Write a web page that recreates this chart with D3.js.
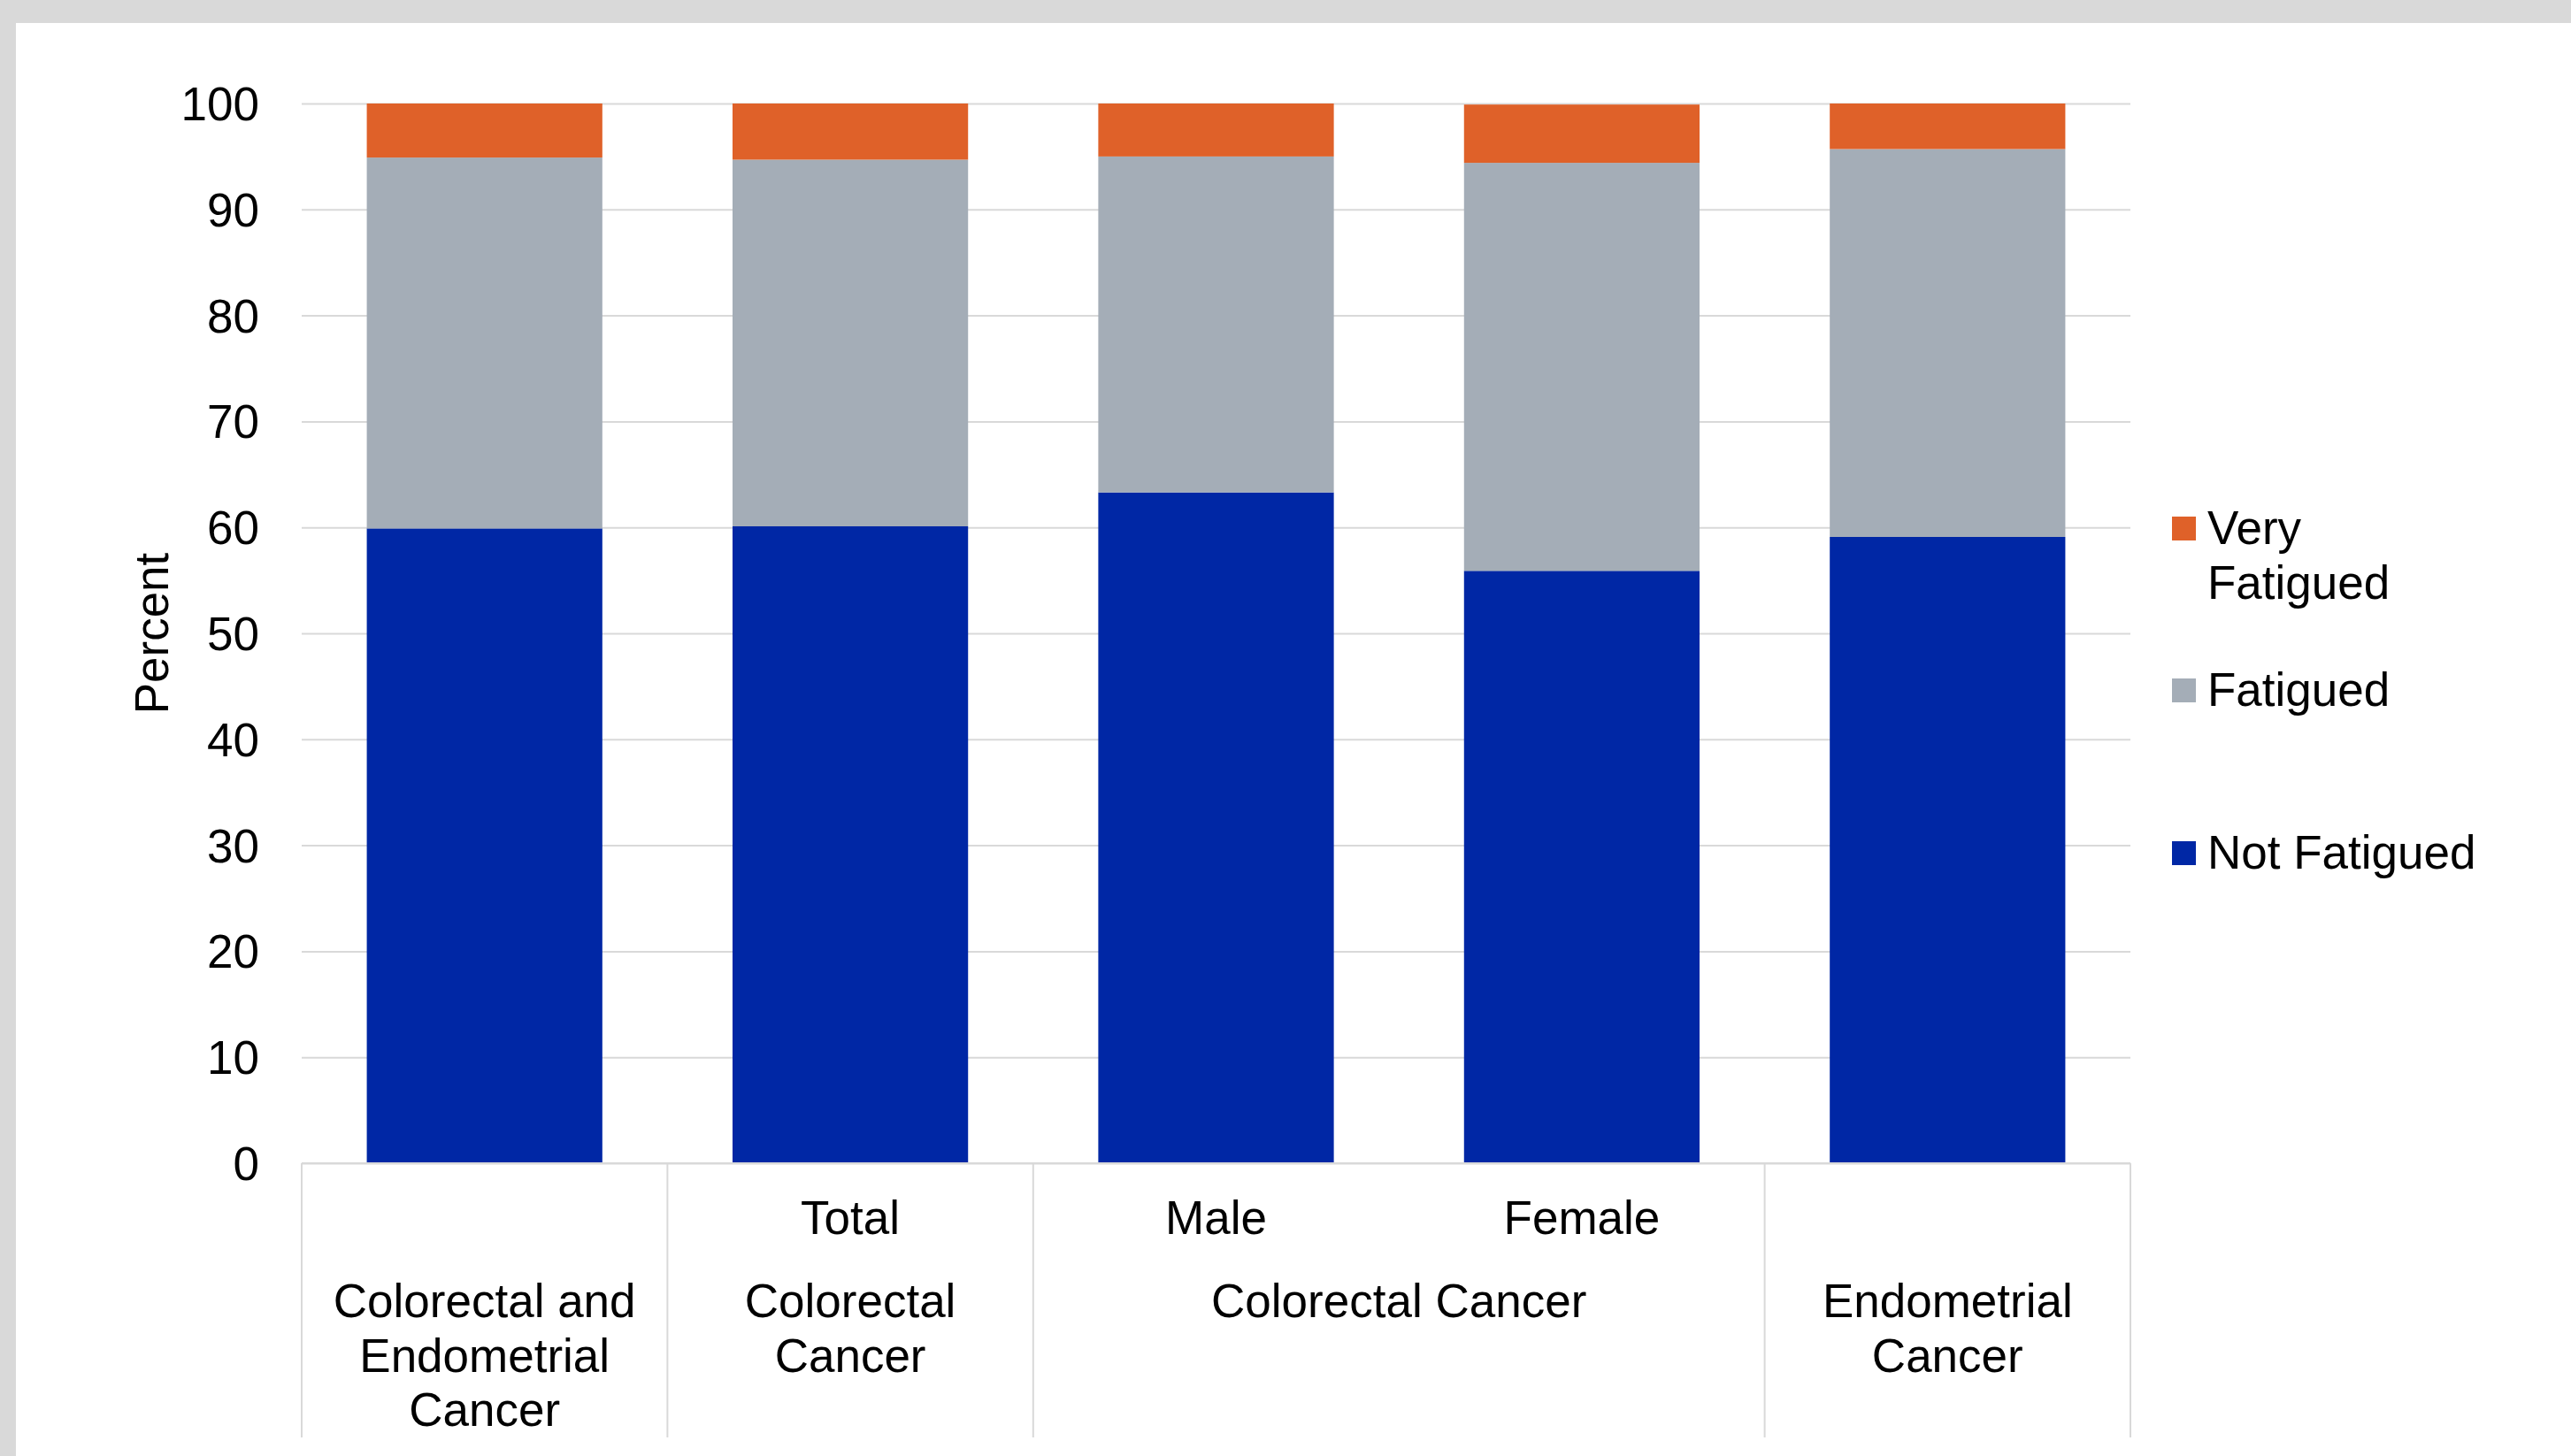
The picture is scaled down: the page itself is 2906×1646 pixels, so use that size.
<!DOCTYPE html>
<html>
<head>
<meta charset="utf-8">
<script src="https://cdn.jsdelivr.net/npm/d3@7"></script>
<style>
  body { margin: 0; background: #fff; }
  svg text { font-family: "Liberation Sans", Arial, sans-serif; fill: #000; }
</style>
</head>
<body>
<div id="chart"></div>
<script>
// values (percent)
const categoryIds = [0, 1, 2, 3, 4];
const subLabels = ["", "Total", "Male", "Female", ""];
const groupLabels = [["Colorectal and", "Endometrial", "Cancer"], ["Colorectal", "Cancer"], ["Colorectal Cancer"], ["Endometrial", "Cancer"]];
const groupSpans = [[0, 0], [1, 1], [2, 3], [4, 4]];

const notFatigued = [59.9, 60.1, 63.3, 55.9, 59.1];
const fatigued = [35.0, 34.6, 31.7, 38.5, 36.6];
const veryFatigued = [5.1, 5.3, 5.0, 5.5, 4.3];

const seriesNames = ["Not Fatigued", "Fatigued", "Very Fatigued"];
const seriesColors = ["#0027a5", "#a4adb7", "#df6129"];
const yTicks = [0, 10, 20, 30, 40, 50, 60, 70, 80, 90, 100];

const width = 2906, height = 1646;
const margin = {top: 117, right: 498, bottom: 331, left: 341};
const plotW = width - margin.left - margin.right;
const plotH = height - margin.top - margin.bottom;
const fontSize = 53;

let svg = d3.select("#chart").append("svg")
            .attr("width", width)
            .attr("height", height);

// grey frame round the white card
svg.append("rect").attr("width", width).attr("height", height).attr("fill", "#d9d9d9");
svg.append("rect").attr("x", 18).attr("y", 26).attr("width", width - 18).attr("height", height - 26).attr("fill", "#fff");

let g = svg.append("g").attr("transform", `translate(${margin.left},${margin.top})`);

let x = d3.scaleBand()
          .domain(categoryIds)
          .range([0, plotW])
          .paddingInner(0.356)
          .paddingOuter(0.178);

let xCat = d3.scaleBand().domain(categoryIds).range([0, plotW]);

let y = d3.scaleLinear().domain([0, 100]).range([plotH, 0]);

// gridlines + tick labels
let yAxis = g.append("g")
             .call(d3.axisLeft(y).tickValues(yTicks).tickSize(-plotW).tickPadding(48));
yAxis.select(".domain").remove();
yAxis.selectAll(".tick line").attr("stroke", "#d9d9d9").attr("stroke-width", 2);
yAxis.selectAll(".tick text").attr("font-size", fontSize).attr("dy", "0.35em");

// stacked bars
let rows = categoryIds.map(i => ({
    id: i,
    "Not Fatigued": notFatigued[i],
    "Fatigued": fatigued[i],
    "Very Fatigued": veryFatigued[i]
}));
let stacked = d3.stack().keys(seriesNames)(rows);

g.selectAll("g.series")
 .data(stacked)
 .enter().append("g")
 .attr("class", "series")
 .attr("fill", (d, i) => seriesColors[i])
 .selectAll("rect")
 .data(d => d)
 .enter().append("rect")
 .attr("x", d => x(d.data.id))
 .attr("width", x.bandwidth())
 .attr("y", d => y(d[1]))
 .attr("height", d => y(d[0]) - y(d[1]));

// category axis: baseline and group separators
let axisG = g.append("g").attr("transform", `translate(0,${plotH})`);
axisG.append("line")
     .attr("x1", 0).attr("x2", plotW)
     .attr("stroke", "#d9d9d9").attr("stroke-width", 2);

let sepX = [0].concat(groupSpans.map(s => xCat(s[1]) + xCat.bandwidth()));
axisG.selectAll("line.sep")
     .data(sepX)
     .enter().append("line")
     .attr("class", "sep")
     .attr("x1", d => d).attr("x2", d => d)
     .attr("y1", 0).attr("y2", 310)
     .attr("stroke", "#d9d9d9").attr("stroke-width", 2);

axisG.selectAll("text.sub")
     .data(categoryIds.filter(i => subLabels[i] !== ""))
     .enter().append("text")
     .attr("class", "sub")
     .attr("x", i => xCat(i) + xCat.bandwidth() / 2)
     .attr("y", 80)
     .attr("text-anchor", "middle")
     .attr("font-size", fontSize)
     .text(i => subLabels[i]);

groupSpans.forEach(function (span, k) {
    let cx = (xCat(span[0]) + xCat(span[1]) + xCat.bandwidth()) / 2;
    let t = axisG.append("text")
                 .attr("text-anchor", "middle")
                 .attr("font-size", fontSize);
    groupLabels[k].forEach(function (line, j) {
        t.append("tspan")
         .attr("x", cx)
         .attr("y", 174 + j * 61.5)
         .text(line);
    });
});

// y title
svg.append("text")
   .attr("transform", `translate(190,${margin.top + plotH / 2}) rotate(-90)`)
   .attr("text-anchor", "middle")
   .attr("font-size", fontSize)
   .text("Percent");

// legend
let legendItems = [
    {name: ["Very", "Fatigued"], color: seriesColors[2], y: 615},
    {name: ["Fatigued"], color: seriesColors[1], y: 798},
    {name: ["Not Fatigued"], color: seriesColors[0], y: 982}
];
let legend = svg.append("g");
legendItems.forEach(function (d) {
    legend.append("rect")
          .attr("x", 2455).attr("y", d.y - 31)
          .attr("width", 27).attr("height", 27)
          .attr("fill", d.color);
    let t = legend.append("text").attr("font-size", fontSize);
    d.name.forEach(function (line, j) {
        t.append("tspan").attr("x", 2495).attr("y", d.y + j * 61.7).text(line);
    });
});
</script>
</body>
</html>
